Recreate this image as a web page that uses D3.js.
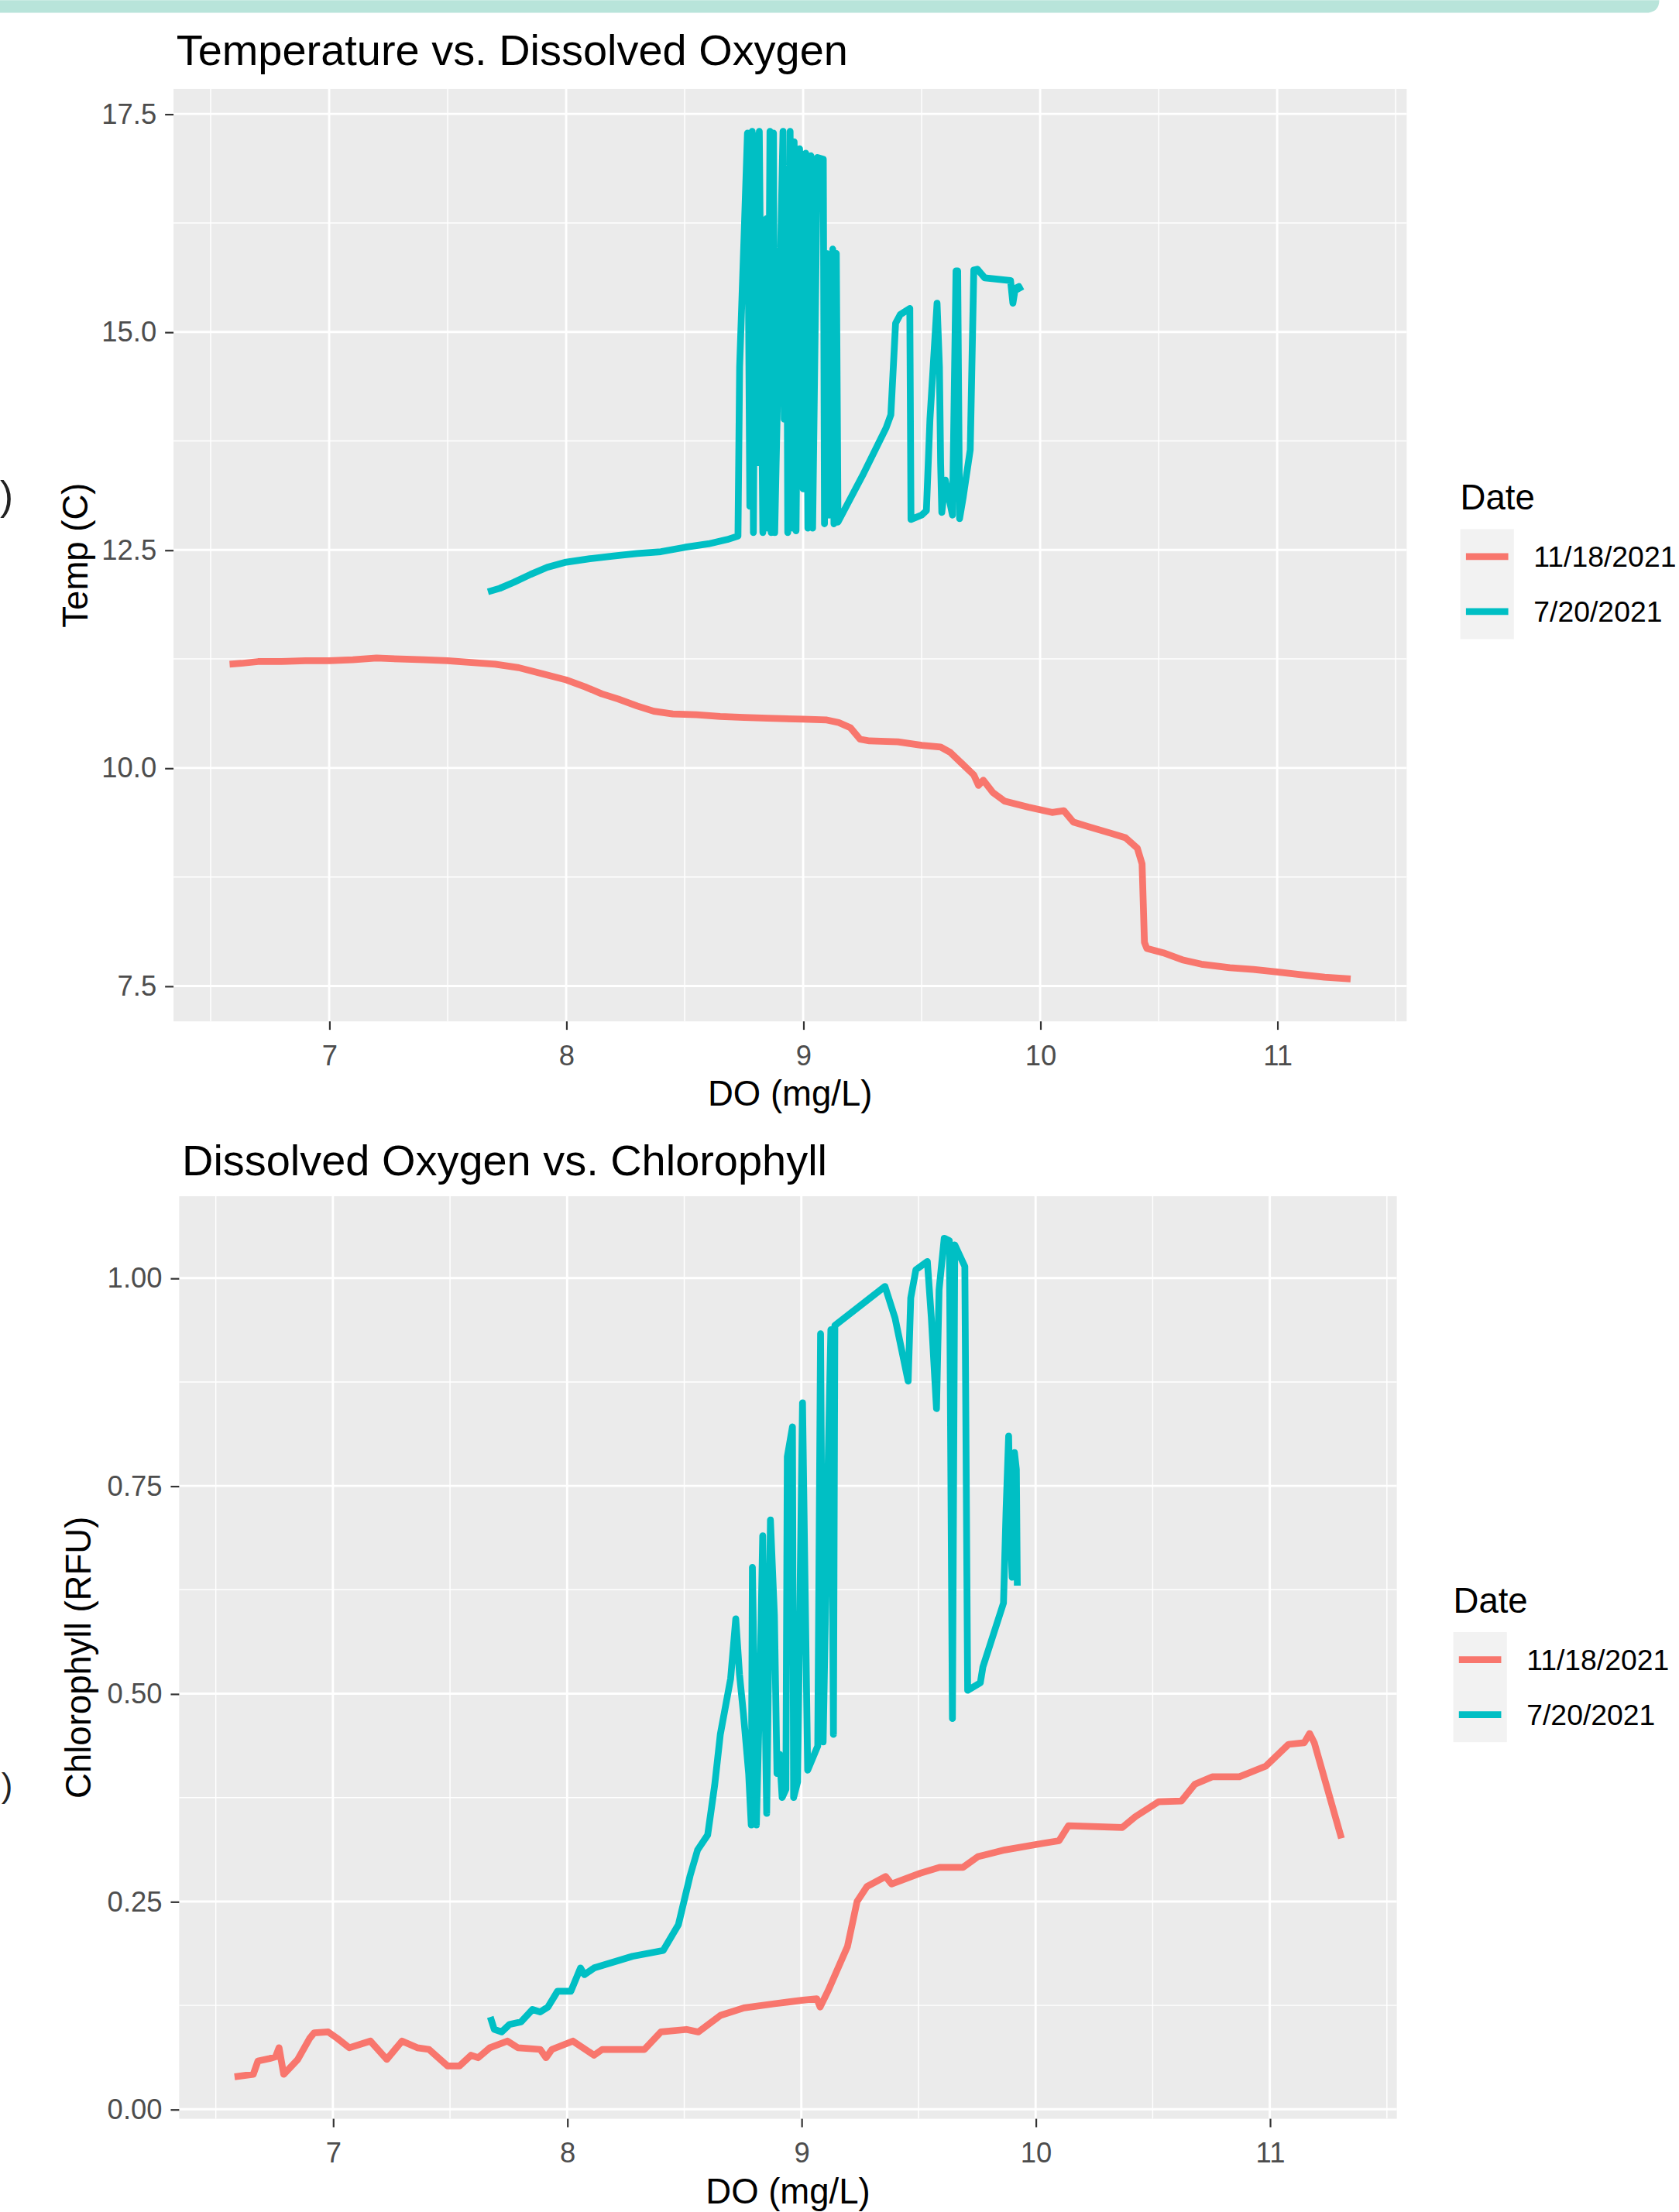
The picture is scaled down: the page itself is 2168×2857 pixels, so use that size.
<!DOCTYPE html>
<html>
<head>
<meta charset="utf-8">
<script src="https://cdn.jsdelivr.net/npm/d3@7"></script>
<style>
  html, body { margin: 0; padding: 0; background: #fff; }
  svg { display: block; }
  text { font-family: "Liberation Sans", Arial, sans-serif; }
</style>
</head>
<body>
<div id="chart"></div>
<script>
// ---- data: [DO (mg/L), value] ----
const dates = ["11/18/2021", "7/20/2021"];
const dateColors = ["#F8766D", "#00BFC4"];

const doTicks = [7, 8, 9, 10, 11];
const tempTicks = [7.5, 10, 12.5, 15, 17.5];
const chlTicks = [0, 0.25, 0.5, 0.75, 1];

const tempNov = [[6.58,11.19],[6.63,11.20],[6.7,11.22],[6.8,11.22],[6.9,11.23],[7.0,11.23],[7.1,11.24],[7.2,11.26],
  [7.3,11.25],[7.4,11.24],[7.5,11.23],[7.6,11.21],[7.7,11.19],[7.8,11.15],[7.9,11.08],[8.0,11.01],[8.08,10.93],
  [8.15,10.85],[8.22,10.79],[8.3,10.71],[8.37,10.65],[8.45,10.62],[8.55,10.61],[8.65,10.59],[8.75,10.58],
  [8.85,10.57],[9.0,10.56],[9.1,10.55],[9.15,10.52],[9.2,10.46],[9.24,10.33],[9.28,10.31],[9.4,10.30],
  [9.5,10.26],[9.58,10.24],[9.62,10.18],[9.67,10.05],[9.72,9.92],[9.74,9.80],[9.76,9.86],[9.8,9.72],
  [9.85,9.62],[9.95,9.55],[10.05,9.49],[10.1,9.51],[10.14,9.38],[10.2,9.33],[10.3,9.25],[10.36,9.2],
  [10.41,9.08],[10.43,8.9],[10.44,8.0],[10.45,7.93],[10.52,7.88],[10.6,7.80],[10.68,7.75],[10.8,7.71],
  [10.9,7.69],[11.0,7.66],[11.1,7.63],[11.2,7.60],[11.31,7.58]];

const tempJul = [[7.67,12.02],[7.72,12.06],[7.78,12.13],[7.85,12.22],[7.92,12.30],[8.0,12.36],[8.1,12.40],
  [8.2,12.43],[8.3,12.46],[8.4,12.48],[8.5,12.53],[8.6,12.57],[8.68,12.62],[8.725,12.66],
  [8.732,14.6],[8.742,15.4],[8.752,16.2],[8.765,17.28],[8.775,13.0],[8.785,17.3],[8.79,12.7],[8.80,17.25],
  [8.81,13.5],[8.815,17.3],[8.83,12.7],[8.845,16.3],[8.85,12.75],[8.86,17.3],[8.865,12.7],[8.875,17.28],
  [8.88,12.7],[8.9,15.3],[8.915,17.3],[8.92,14.0],[8.93,16.8],[8.935,12.7],[8.945,17.3],[8.955,12.75],
  [8.962,17.18],[8.97,12.72],[8.985,17.1],[9.0,13.2],[9.011,17.05],[9.02,12.75],[9.033,17.02],[9.04,12.75],
  [9.06,17.0],[9.085,16.98],[9.09,12.8],[9.10,15.9],[9.11,12.9],[9.125,15.95],[9.13,12.8],[9.14,15.9],
  [9.147,12.82],[9.25,13.35],[9.35,13.9],[9.37,14.05],[9.39,15.1],[9.41,15.2],[9.45,15.27],[9.455,12.85],
  [9.5,12.9],[9.52,12.95],[9.535,14.0],[9.565,15.33],[9.575,14.6],[9.58,13.5],[9.585,12.93],[9.6,13.3],
  [9.63,12.9],[9.645,15.7],[9.652,15.7],[9.66,12.86],[9.675,13.1],[9.705,13.65],[9.72,15.71],[9.735,15.72],
  [9.766,15.62],[9.875,15.59],[9.885,15.33],[9.895,15.5],[9.91,15.52],[9.92,15.47]];

const chlNov = [[6.58,0.039],[6.66,0.042],[6.68,0.058],[6.73,0.061],[6.755,0.063],[6.77,0.074],[6.79,0.042],
  [6.85,0.060],[6.9,0.085],[6.92,0.092],[6.98,0.093],[7.02,0.085],[7.07,0.074],[7.16,0.082],[7.23,0.060],
  [7.295,0.082],[7.36,0.074],[7.41,0.072],[7.49,0.052],[7.54,0.052],[7.59,0.065],[7.62,0.062],[7.67,0.074],
  [7.745,0.082],[7.79,0.074],[7.885,0.072],[7.91,0.062],[7.935,0.072],[8.025,0.082],[8.115,0.065],[8.15,0.072],
  [8.33,0.072],[8.4,0.093],[8.51,0.096],[8.56,0.093],[8.655,0.113],[8.755,0.122],[8.885,0.127],[9.0,0.131],
  [9.066,0.133],[9.08,0.123],[9.115,0.143],[9.197,0.196],[9.238,0.25],[9.28,0.268],[9.36,0.28],[9.385,0.271],
  [9.508,0.284],[9.59,0.291],[9.69,0.291],[9.754,0.304],[9.869,0.312],[10.033,0.32],[10.1,0.323],[10.14,0.341],
  [10.37,0.339],[10.426,0.352],[10.525,0.37],[10.623,0.371],[10.68,0.391],[10.754,0.4],[10.87,0.4],
  [10.984,0.413],[11.08,0.439],[11.147,0.441],[11.17,0.452],[11.19,0.441],[11.306,0.326]];

const chlJul = [[7.672,0.111],[7.689,0.096],[7.72,0.093],[7.754,0.102],[7.803,0.105],[7.852,0.12],[7.885,0.117],
  [7.918,0.123],[7.959,0.142],[8.016,0.142],[8.057,0.17],[8.074,0.162],[8.115,0.17],[8.279,0.184],[8.41,0.191],
  [8.475,0.222],[8.525,0.281],[8.557,0.312],[8.6,0.33],[8.63,0.39],[8.654,0.451],[8.698,0.518],[8.72,0.59],
  [8.736,0.523],[8.753,0.475],[8.775,0.404],[8.786,0.342],[8.791,0.652],[8.808,0.342],[8.824,0.523],
  [8.835,0.69],[8.852,0.356],[8.868,0.709],[8.885,0.594],[8.896,0.404],[8.907,0.427],[8.918,0.375],
  [8.934,0.385],[8.94,0.785],[8.962,0.821],[8.967,0.375],[8.984,0.394],[9.005,0.85],[9.016,0.628],
  [9.027,0.408],[9.07,0.437],[9.082,0.933],[9.093,0.442],[9.115,0.785],[9.126,0.938],[9.137,0.451],
  [9.143,0.943],[9.357,0.99],[9.40,0.952],[9.456,0.876],[9.467,0.976],[9.489,1.01],[9.538,1.02],
  [9.555,0.952],[9.577,0.843],[9.588,0.986],[9.61,1.048],[9.632,1.045],[9.645,0.47],[9.655,1.04],
  [9.698,1.014],[9.71,0.504],[9.764,0.513],[9.775,0.532],[9.863,0.609],[9.874,0.72],[9.885,0.81],
  [9.892,0.70],[9.90,0.64],[9.91,0.79],[9.918,0.77],[9.922,0.63]];

// ---- drawing ----
const svg = d3.select("#chart").append("svg")
    .attr("width", 2168)
    .attr("height", 2857)
    .attr("viewBox", "0 0 1190 1568");

svg.append("rect").attr("width", 1190).attr("height", 1568).attr("fill", "#fff");

// mint strip along the top of the page
svg.append("path")
    .attr("d", "M0,0 H1176 V0 Q1176,9 1166,9 H0 Z")
    .attr("fill", "#b8e4da");

// stray characters at the left edge
svg.append("text").attr("x", 0).attr("y", 361).attr("font-size", 28).attr("fill", "#222").text(")");
svg.append("text").attr("x", 1).attr("y", 1274).attr("font-size", 24).attr("fill", "#222").text(")");

// ggplot-style 5% expansion
function expand(ext) {
    let pad = (ext[1] - ext[0]) * 0.05;
    return [ext[0] - pad, ext[1] + pad];
}

function drawChart(c) {
    let g = svg.append("g");
    let all = c.series.flat();

    let x = d3.scaleLinear()
        .domain(expand(d3.extent(all, d => d[0])))
        .range([c.left, c.right]);
    let y = d3.scaleLinear()
        .domain(expand(d3.extent(all, d => d[1])))
        .range([c.bottom, c.top]);

    g.append("rect")
        .attr("x", c.left).attr("y", c.top)
        .attr("width", c.right - c.left).attr("height", c.bottom - c.top)
        .attr("fill", "#EBEBEB");

    // minor grid: midpoints between major breaks
    let xStep = c.xTicks[1] - c.xTicks[0];
    let yStep = c.yTicks[1] - c.yTicks[0];
    let xMinor = d3.range(c.xTicks[0] - xStep / 2, c.xTicks[c.xTicks.length - 1] + xStep, xStep)
        .filter(v => v >= x.domain()[0] && v <= x.domain()[1]);
    let yMinor = d3.range(c.yTicks[0] - yStep / 2, c.yTicks[c.yTicks.length - 1] + yStep, yStep)
        .filter(v => v >= y.domain()[0] && v <= y.domain()[1]);

    g.selectAll(".vminor").data(xMinor).enter().append("line")
        .attr("x1", d => x(d)).attr("x2", d => x(d))
        .attr("y1", c.top).attr("y2", c.bottom)
        .attr("stroke", "#fff").attr("stroke-width", 0.8);
    g.selectAll(".hminor").data(yMinor).enter().append("line")
        .attr("y1", d => y(d)).attr("y2", d => y(d))
        .attr("x1", c.left).attr("x2", c.right)
        .attr("stroke", "#fff").attr("stroke-width", 0.8);
    g.selectAll(".vmajor").data(c.xTicks).enter().append("line")
        .attr("x1", d => x(d)).attr("x2", d => x(d))
        .attr("y1", c.top).attr("y2", c.bottom)
        .attr("stroke", "#fff").attr("stroke-width", 1.6);
    g.selectAll(".hmajor").data(c.yTicks).enter().append("line")
        .attr("y1", d => y(d)).attr("y2", d => y(d))
        .attr("x1", c.left).attr("x2", c.right)
        .attr("stroke", "#fff").attr("stroke-width", 1.6);

    // lines (geom_line connects points in x order)
    let line = d3.line().x(d => x(d[0])).y(d => y(d[1]));
    c.series.forEach((s, i) => {
        g.append("path")
            .datum(s.slice().sort((a, b) => a[0] - b[0]))
            .attr("d", line)
            .attr("fill", "none")
            .attr("stroke", dateColors[i])
            .attr("stroke-width", 4.8)
            .attr("stroke-linejoin", "round");
    });

    // axes
    let xAxis = d3.axisBottom(x).tickValues(c.xTicks).tickFormat(d3.format("d"))
        .tickSize(6).tickSizeOuter(0).tickPadding(11);
    let yAxis = d3.axisLeft(y).tickValues(c.yTicks).tickFormat(d3.format(c.yFormat))
        .tickSize(6).tickSizeOuter(0).tickPadding(6);

    let gx = g.append("g").attr("transform", "translate(0," + c.bottom + ")").call(xAxis);
    let gy = g.append("g").attr("transform", "translate(" + c.left + ",0)").call(yAxis);
    [gx, gy].forEach(a => {
        a.select(".domain").remove();
        a.selectAll(".tick line").attr("stroke", "#333").attr("stroke-width", 1.2);
        a.selectAll(".tick text").attr("fill", "#4D4D4D").attr("font-size", 20)
            .attr("font-family", "'Liberation Sans', Arial, sans-serif");
    });

    // titles
    g.append("text")
        .attr("x", c.left + 2).attr("y", c.titleY)
        .attr("font-size", 30.7).attr("fill", "#000")
        .text(c.title);
    g.append("text")
        .attr("x", (c.left + c.right) / 2).attr("y", c.xTitleY)
        .attr("text-anchor", "middle").attr("font-size", 25).attr("fill", "#000")
        .text("DO (mg/L)");
    g.append("text")
        .attr("transform", "translate(" + c.yTitleX + "," + ((c.top + c.bottom) / 2) + ") rotate(-90)")
        .attr("text-anchor", "middle").attr("font-size", 25).attr("fill", "#000")
        .text(c.yTitle);

    // legend
    let lg = g.append("g").attr("transform", "translate(" + c.legendX + "," + c.legendY + ")");
    lg.append("text").attr("x", 0).attr("y", 0).attr("font-size", 25).attr("fill", "#000").text("Date");
    lg.append("rect").attr("x", 0).attr("y", 14).attr("width", 38).attr("height", 78).attr("fill", "#F2F2F2");
    dates.forEach((d, i) => {
        let cy = 14 + 19.5 + i * 39;
        lg.append("line")
            .attr("x1", 4).attr("x2", 34).attr("y1", cy).attr("y2", cy)
            .attr("stroke", dateColors[i]).attr("stroke-width", 4.8);
        lg.append("text")
            .attr("x", 52).attr("y", cy + 7.3)
            .attr("font-size", 20.5).attr("fill", "#000")
            .text(d);
    });
}

drawChart({
    title: "Temperature vs. Dissolved Oxygen",
    yTitle: "Temp (C)",
    series: [tempNov, tempJul],
    xTicks: doTicks, yTicks: tempTicks, yFormat: ".1f",
    left: 123, right: 997, top: 63, bottom: 724,
    titleY: 46, xTitleY: 784, yTitleX: 62,
    legendX: 1035, legendY: 361
});

drawChart({
    title: "Dissolved Oxygen vs. Chlorophyll",
    yTitle: "Chlorophyll (RFU)",
    series: [chlNov, chlJul],
    xTicks: doTicks, yTicks: chlTicks, yFormat: ".2f",
    left: 127, right: 990, top: 848, bottom: 1502,
    titleY: 833, xTitleY: 1562, yTitleX: 64,
    legendX: 1030, legendY: 1143
});
</script>
</body>
</html>
